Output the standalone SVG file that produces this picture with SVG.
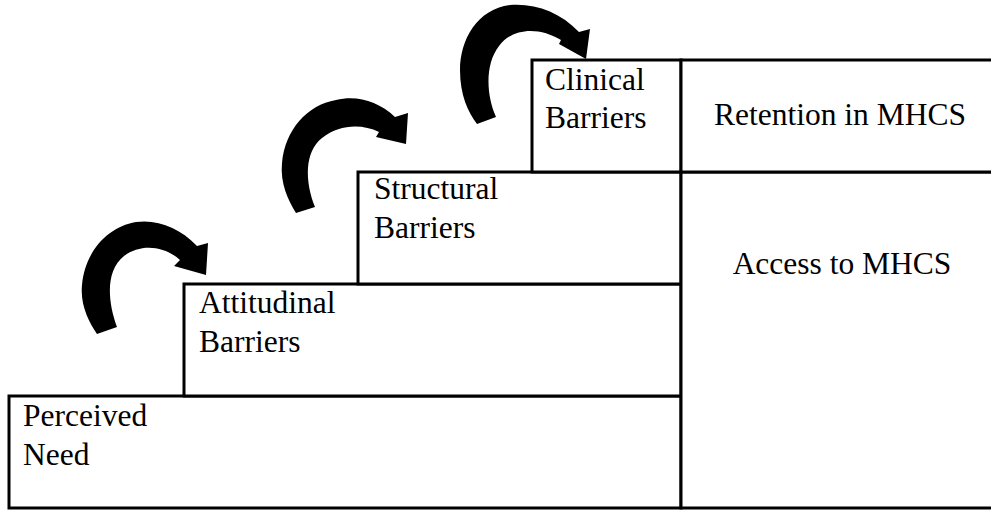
<svg xmlns="http://www.w3.org/2000/svg" width="991" height="510" viewBox="0 0 991 510">
  <style>
    .box { fill: #ffffff; stroke: #000000; stroke-width: 3; }
    .lbl { font-family: 'Liberation Serif', 'Times New Roman', Times, serif; font-size: 31.5px; fill: #000000; }
    .mid { text-anchor: middle; }
    .arrow { fill: #000000; stroke: none; }
  </style>
  <rect width="991" height="510" fill="#ffffff"/>

  <!-- staircase steps -->
  <g id="perceived-need">
    <rect class="box" x="9" y="396" width="672" height="112"/>
    <text class="lbl" x="23" y="426">Perceived</text>
    <text class="lbl" x="23" y="465">Need</text>
  </g>
  <g id="attitudinal-barriers">
    <rect class="box" x="184" y="284" width="497" height="112"/>
    <text class="lbl" x="199" y="313">Attitudinal</text>
    <text class="lbl" x="199" y="352">Barriers</text>
  </g>
  <g id="structural-barriers">
    <rect class="box" x="358" y="172" width="323" height="112"/>
    <text class="lbl" x="374" y="199">Structural</text>
    <text class="lbl" x="374" y="238">Barriers</text>
  </g>
  <g id="clinical-barriers">
    <rect class="box" x="532" y="60" width="149" height="112"/>
    <text class="lbl" x="545" y="90">Clinical</text>
    <text class="lbl" x="545" y="128">Barriers</text>
  </g>

  <!-- outcome column (runs past the right edge) -->
  <g id="access-to-mhcs">
    <rect class="box" x="681" y="172" width="320" height="336"/>
    <text class="lbl mid" x="842" y="274">Access to MHCS</text>
  </g>
  <g id="retention-in-mhcs">
    <rect class="box" x="681" y="60" width="320" height="112"/>
    <text class="lbl mid" x="840" y="125">Retention in MHCS</text>
  </g>

  <!-- curved step arrows -->
  <g id="connectors">
    <path class="arrow" d="M 97 334 L 117 327 C 107 300, 106 270, 124 256 C 141 243, 165 246, 180 260 L 174 266 L 206 275 L 208 243 L 197 246 C 180 228, 158 219, 136 222 C 107 227, 85 252, 82 285 C 80 305, 89 322, 97 334 Z"/>
    <path class="arrow" d="M 296 213 L 315 207 C 305 182, 304 152, 322 138 C 340 124, 362 124, 379 132 L 376 137 L 406 144 L 408 113 L 395 117 C 378 101, 357 95, 336 100 C 307 105, 285 130, 282 163 C 280 183, 288 200, 296 213 Z"/>
    <path class="arrow" d="M 477 124 L 496 117 C 486 95, 485 64, 499 46 C 513 27, 540 27, 561 40 L 559 44 L 586 59 L 590 29 L 579 32 C 560 12, 535 3, 510 5 C 477 9, 460 40, 460 70 C 460 95, 468 112, 477 124 Z"/>
  </g>
</svg>
